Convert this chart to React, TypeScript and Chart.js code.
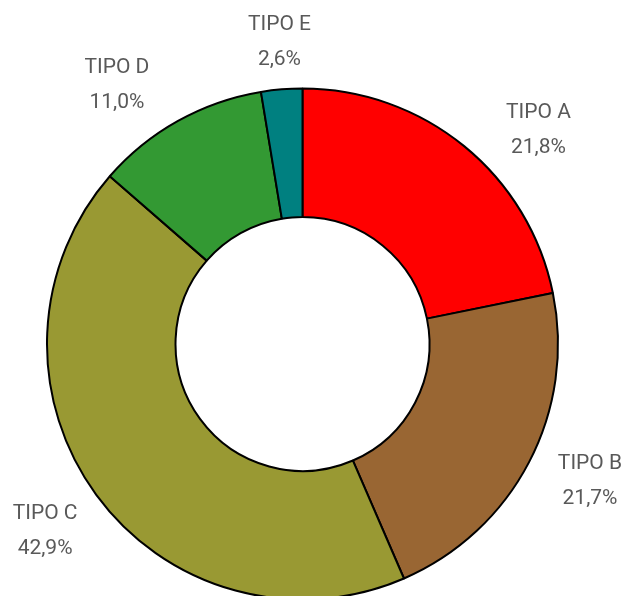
import { useEffect, useRef } from "react";
import { Chart, registerables } from "chart.js";

Chart.register(...registerables);

const categories = ["TIPO A", "TIPO B", "TIPO C", "TIPO D", "TIPO E"];
const shares = [21.8, 21.7, 42.9, 11.0, 2.6];
const shareLabels = ["21,8%", "21,7%", "42,9%", "11,0%", "2,6%"];
const colors = ["#FF0000", "#996633", "#999933", "#339933", "#008080"];
// small adjustments of the outside labels (degrees / px), like the original's best-fit placement
const labelAngleNudge = [7.9, -2, 0, -5.8, 0.4];
const labelRadialNudge = [3, 0, 0, 5, -9];

const outsideLabels = {
  id: "outsideLabels",
  afterDatasetsDraw(chart: any) {
    const ctx = chart.ctx as CanvasRenderingContext2D;
    const meta = chart.getDatasetMeta(0);
    ctx.save();
    ctx.font = "21px Roboto";
    ctx.fillStyle = "#595959";
    ctx.textAlign = "center";
    ctx.textBaseline = "alphabetic";
    const h = 55;
    meta.data.forEach((arc: any, i: number) => {
      const { x, y, startAngle, endAngle, outerRadius } = arc.getProps(
        ["x", "y", "startAngle", "endAngle", "outerRadius"],
        true
      );
      const mid = (startAngle + endAngle) / 2 + (labelAngleNudge[i] * Math.PI) / 180;
      const r = outerRadius + 31 + labelRadialNudge[i];
      const px = x + Math.cos(mid) * r;
      const py = y + Math.sin(mid) * r;
      const w = Math.max(
        ctx.measureText(categories[i]).width,
        ctx.measureText(shareLabels[i]).width
      );
      const cx = px + (Math.cos(mid) * w) / 2;
      const cy = py + (Math.sin(mid) * h) / 2;
      ctx.fillText(categories[i], cx, cy - 10);
      ctx.fillText(shareLabels[i], cx, cy + 25);
    });
    ctx.restore();
  },
};

export default function App() {
  const ref = useRef<HTMLCanvasElement>(null);
  useEffect(() => {
    if (!ref.current) return;
    const chart = new Chart(ref.current, {
      type: "doughnut",
      data: {
        labels: categories,
        datasets: [
          {
            data: shares,
            backgroundColor: colors,
            borderColor: "#000000",
            borderWidth: 2,
            clip: false as any,
          } as any,
        ],
      },
      options: {
        responsive: false,
        animation: false,
        cutout: "49.7%",
        radius: 255.5,
        layout: { padding: { top: 92, right: 21, left: 0, bottom: 0 } },
        plugins: {
          legend: { display: false },
          tooltip: { enabled: false },
        },
      } as any,
      plugins: [outsideLabels],
    });
    return () => chart.destroy();
  }, []);
  return (
    <div style={{ position: "absolute", left: 0, top: 0, width: 626, height: 596, background: "#fff" }}>
      <canvas ref={ref} width={626} height={596} style={{ display: "block" }} />
    </div>
  );
}
